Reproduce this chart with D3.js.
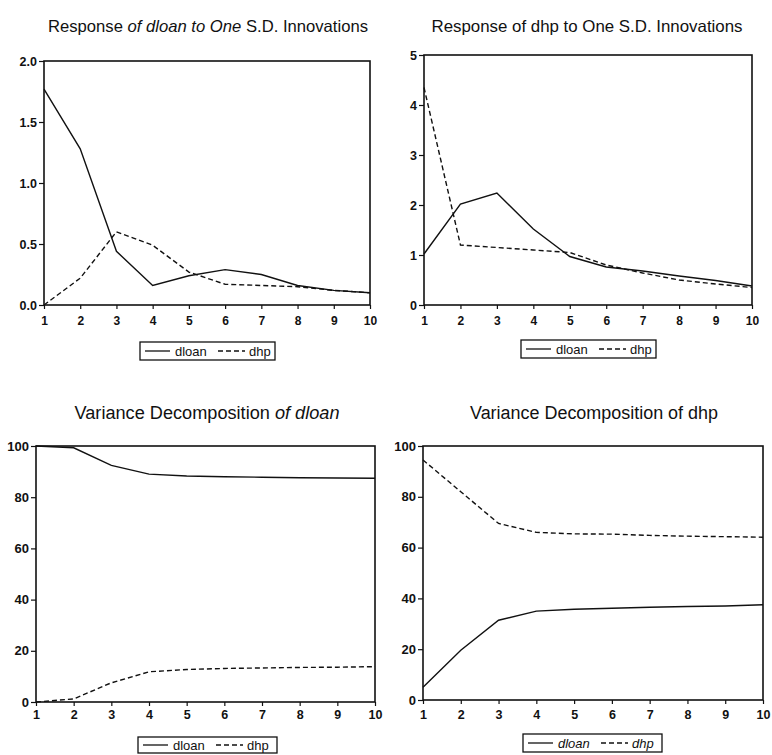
<!DOCTYPE html>
<html>
<head>
<meta charset="utf-8">
<script src="https://cdn.jsdelivr.net/npm/d3@7"></script>
<style>
  body { margin: 0; background: #fff; }
  svg { display: block; font-family: "Liberation Sans", Arial, sans-serif; }
</style>
</head>
<body>
<svg id="chart" width="772" height="755"></svg>
<script>
// ---------- data ----------
const periods = [1, 2, 3, 4, 5, 6, 7, 8, 9, 10];
const seriesNames = ["dloan", "dhp"];

// Response of dloan to One S.D. Innovations
const irfDloan_dloan = [1.77, 1.28, 0.44, 0.16, 0.24, 0.29, 0.25, 0.16, 0.12, 0.10];
const irfDloan_dhp   = [0.00, 0.22, 0.60, 0.49, 0.27, 0.17, 0.16, 0.15, 0.12, 0.10];

// Response of dhp to One S.D. Innovations
const irfDhp_dloan = [1.02, 2.02, 2.24, 1.52, 0.97, 0.76, 0.68, 0.58, 0.49, 0.38];
const irfDhp_dhp   = [4.35, 1.20, 1.15, 1.10, 1.05, 0.80, 0.64, 0.50, 0.42, 0.35];

// Variance Decomposition of dloan
const vdDloan_dloan = [100.0, 99.3, 92.4, 89.0, 88.3, 88.0, 87.8, 87.6, 87.5, 87.4];
const vdDloan_dhp   = [0.0, 1.2, 7.5, 11.8, 12.7, 13.1, 13.3, 13.5, 13.6, 13.8];

// Variance Decomposition of dhp
const vdDhp_dloan = [5.0, 19.6, 31.4, 35.0, 35.7, 36.1, 36.5, 36.8, 37.0, 37.5];
const vdDhp_dhp   = [94.5, 82.0, 69.5, 66.0, 65.4, 65.3, 64.8, 64.5, 64.3, 64.1];

// tick labels
const xTickValues = periods;
const yTicksIrfDloan = [0, 0.5, 1.0, 1.5, 2.0];
const yTicksIrfDhp   = [0, 1, 2, 3, 4, 5];
const yTicksVd       = [0, 20, 40, 60, 80, 100];

// ---------- layout ----------
const panels = [
  { title: [["Response ", false], ["of dloan to One", true], [" S.D. Innovations", false]],
    titleX: 208, titleY: 32, titleSize: 16.5, titleW: 320,
    box: { l: 44, r: 370, t: 61, b: 305 },
    yDomain: [0, 2], yTicks: yTicksIrfDloan, yFmt: d3.format(".1f"),
    xLabY: 325, xLabSize: 12, yLabSize: 12.5,
    series: [irfDloan_dloan, irfDloan_dhp],
    legend: { x: 140, y: 342, w: 135, h: 18, italic: false } },
  { title: [["Response of dhp to One S.D. Innovations", false]],
    titleX: 587, titleY: 32, titleSize: 16.5, titleW: 311,
    box: { l: 424, r: 752, t: 55, b: 305 },
    yDomain: [0, 5], yTicks: yTicksIrfDhp, yFmt: d3.format("d"),
    xLabY: 325, xLabSize: 12, yLabSize: 12.5,
    series: [irfDhp_dloan, irfDhp_dhp],
    legend: { x: 521, y: 340, w: 135, h: 18, italic: false } },
  { title: [["Variance Decomposition ", false], ["of dloan", true]],
    titleX: 207, titleY: 419, titleSize: 18, titleW: 265,
    box: { l: 36, r: 375, t: 446, b: 702 },
    yDomain: [0, 100], yTicks: yTicksVd, yFmt: d3.format("d"),
    xLabY: 719, xLabSize: 12.5, yLabSize: 13,
    series: [vdDloan_dloan, vdDloan_dhp],
    legend: { x: 138, y: 737, w: 139, h: 16, italic: false } },
  { title: [["Variance Decomposition of dhp", false]],
    titleX: 594, titleY: 419, titleSize: 18, titleW: 248,
    box: { l: 423, r: 763, t: 446, b: 700 },
    yDomain: [0, 100], yTicks: yTicksVd, yFmt: d3.format("d"),
    xLabY: 719, xLabSize: 12.5, yLabSize: 13,
    series: [vdDhp_dloan, vdDhp_dhp],
    legend: { x: 523, y: 734, w: 139, h: 18, italic: true } }
];

const dashes = [null, "5,3"];
const svg = d3.select("#chart");

panels.forEach(p => {
  const g = svg.append("g");
  const x = d3.scaleLinear().domain([1, 10]).range([p.box.l, p.box.r]);
  const y = d3.scaleLinear().domain(p.yDomain).range([p.box.b, p.box.t]);

  // title
  const t = g.append("text")
    .attr("x", p.titleX).attr("y", p.titleY)
    .attr("text-anchor", "middle")
    .attr("font-size", p.titleSize)
    .attr("fill", "#111")
    .attr("textLength", p.titleW)
    .attr("lengthAdjust", "spacingAndGlyphs");
  p.title.forEach(([s, it]) => {
    t.append("tspan").text(s).attr("font-style", it ? "italic" : "normal");
  });

  // y axis
  const yAxis = d3.axisLeft(y).tickValues(p.yTicks).tickFormat(p.yFmt).tickSize(5).tickPadding(2);
  const ya = g.append("g").attr("transform", `translate(${p.box.l},0)`).call(yAxis);
  ya.select(".domain").remove();
  ya.selectAll("line").attr("stroke", "#111").attr("stroke-width", 1.2);
  ya.selectAll("text").attr("font-size", p.yLabSize).attr("fill", "#111")
    .attr("font-family", "Liberation Sans, Arial, sans-serif").attr("font-weight", "bold");

  // x axis
  const xAxis = d3.axisBottom(x).tickValues(xTickValues).tickFormat(d3.format("d")).tickSize(4).tickPadding(2);
  const xa = g.append("g").attr("transform", `translate(0,${p.box.b})`).call(xAxis);
  xa.select(".domain").remove();
  xa.selectAll("line").attr("stroke", "#111").attr("stroke-width", 1.2);
  xa.selectAll("text").attr("font-size", p.xLabSize).attr("fill", "#111")
    .attr("font-family", "Liberation Sans, Arial, sans-serif").attr("font-weight", "bold")
    .attr("dy", null).attr("y", p.xLabY - p.box.b);

  // box
  g.append("rect")
    .attr("x", p.box.l).attr("y", p.box.t)
    .attr("width", p.box.r - p.box.l).attr("height", p.box.b - p.box.t)
    .attr("fill", "none").attr("stroke", "#111").attr("stroke-width", 1.6);

  // lines
  const line = d3.line().x((d, i) => x(periods[i])).y(d => y(d));
  p.series.forEach((s, k) => {
    g.append("path").datum(s)
      .attr("d", line)
      .attr("fill", "none")
      .attr("stroke", "#111")
      .attr("stroke-width", 1.4)
      .attr("stroke-dasharray", dashes[k]);
  });

  // legend
  const L = p.legend;
  const lg = g.append("g");
  lg.append("rect").attr("x", L.x).attr("y", L.y).attr("width", L.w).attr("height", L.h)
    .attr("fill", "#fff").attr("stroke", "#111").attr("stroke-width", 1.3);
  const cy = L.y + L.h / 2;
  const items = [
    { x0: L.x + 5, x1: L.x + 30, tx: L.x + 35 },
    { x0: L.x + 78, x1: L.x + 105, tx: L.x + 109 }
  ];
  items.forEach((it, k) => {
    lg.append("line").attr("x1", it.x0).attr("x2", it.x1).attr("y1", cy).attr("y2", cy)
      .attr("stroke", "#111").attr("stroke-width", 1.3).attr("stroke-dasharray", dashes[k]);
    lg.append("text").attr("x", it.tx).attr("y", cy + 4.5)
      .attr("font-size", 13).attr("fill", "#111")
      .attr("font-style", L.italic ? "italic" : "normal")
      .text(seriesNames[k]);
  });
});
</script>
</body>
</html>
